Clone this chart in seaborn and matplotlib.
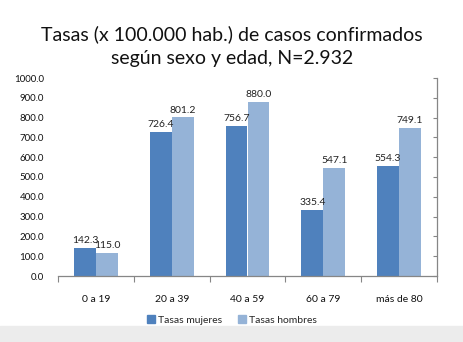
import matplotlib
matplotlib.use("Agg")
import matplotlib.pyplot as plt
import seaborn as sns
import pandas as pd
import numpy as np
from matplotlib.patches import Rectangle

# Age groups and rates per 100,000 inhabitants
grupos = ["0 a 19", "20 a 39", "40 a 59", "60 a 79", "más de 80"]
tasas_mujeres = [142.3, 726.4, 756.7, 335.4, 554.3]
tasas_hombres = [115.0, 801.2, 880.0, 547.1, 749.1]
series = ["Tasas mujeres", "Tasas hombres"]
colores = ["#4F81BD", "#95B3D7"]
yticks = [0, 100, 200, 300, 400, 500, 600, 700, 800, 900, 1000]

df = pd.DataFrame({
    "grupo": grupos * 2,
    "tasa": tasas_mujeres + tasas_hombres,
    "serie": [series[0]] * len(grupos) + [series[1]] * len(grupos),
})

sns.set_theme(style="white")
plt.rcParams["font.family"] = ["Lato", "DejaVu Sans"]

fig = plt.figure(figsize=(4.64, 3.42), dpi=100)
ax = fig.add_axes([58 / 464, 1 - 276 / 342, (437 - 58) / 464, (276 - 78) / 342])

sns.barplot(data=df, x="grupo", y="tasa", hue="serie", order=grupos,
            hue_order=series, palette=colores, saturation=1, width=0.58,
            ax=ax, legend=False, linewidth=0)

for cont in ax.containers:
    ax.bar_label(cont, fmt="%.1f", padding=2, fontsize=7.5, color="#222222")

ax.set_xlim(-0.5, len(grupos) - 0.5)
ax.set_ylim(0, 1000)
ax.set_yticks(yticks)
ax.set_yticklabels([f"{v:.1f}" for v in yticks])
ax.set_xlabel("")
ax.set_ylabel("")

for s in ["left", "top"]:
    ax.spines[s].set_visible(False)
for s in ["right", "bottom"]:
    ax.spines[s].set_color("#868686")
    ax.spines[s].set_linewidth(0.9)

ax.tick_params(axis="y", which="major", left=False, right=True, direction="in",
               length=3, width=0.8, color="#868686", labelleft=True,
               labelright=False, labelsize=7, pad=10, labelcolor="#111111")
ax.set_xticks(np.arange(-0.5, len(grupos), 1.0), minor=True)
ax.tick_params(axis="x", which="minor", bottom=True, direction="out",
               length=4, width=0.8, color="#868686")
ax.tick_params(axis="x", which="major", bottom=False, labelsize=7.5,
               pad=8, labelcolor="#111111")

fig.suptitle("Tasas (x 100.000 hab.) de casos confirmados\nsegún sexo y edad, N=2.932",
             y=0.927, fontsize=14, color="#111111", linespacing=1.5)

handles = [Rectangle((0, 0), 1, 1, color=c) for c in colores]
fig.legend(handles, series, loc="center", bbox_to_anchor=(0.5, 1 - 320 / 342),
           ncol=2, frameon=False, fontsize=7.5, handlelength=0.8,
           handleheight=0.8, handletextpad=0.3, columnspacing=1.5)

# light grey band along the bottom edge
fig.patches.append(Rectangle((0, 0), 1, 16 / 342, transform=fig.transFigure,
                             color="#ececec", zorder=-1))

fig.savefig("out.png", dpi=100, facecolor="white")
